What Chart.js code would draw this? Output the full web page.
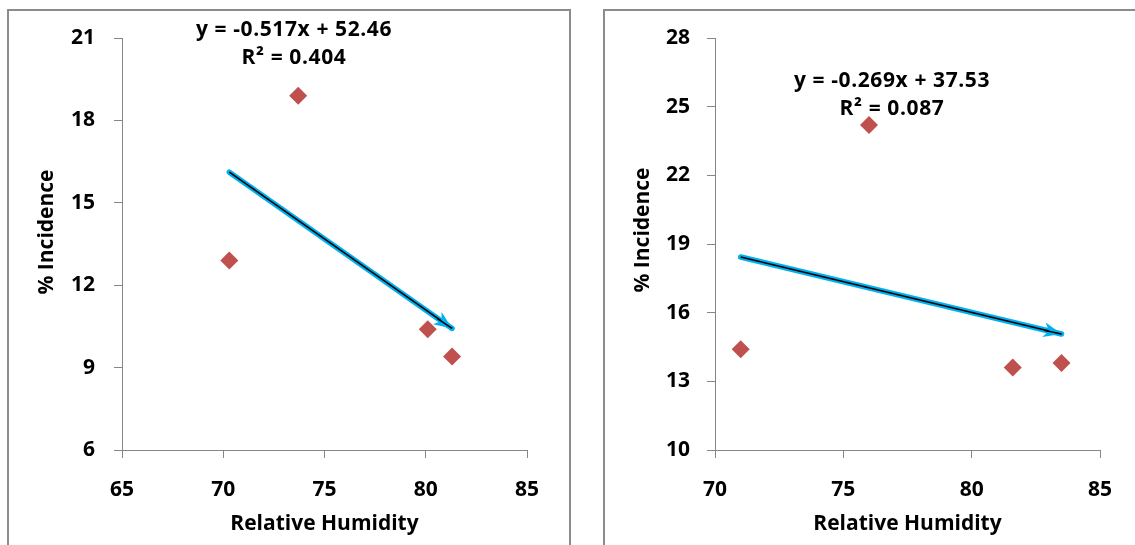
<!DOCTYPE html>
<html>
<head>
<meta charset="utf-8">
<script src="https://cdn.jsdelivr.net/npm/chart.js@4.4.1/dist/chart.umd.min.js"></script>
<style>
  body { margin: 0; background: #fff; width: 1135px; height: 545px; overflow: hidden; position: relative; }
  .box { position: absolute; border: 2px solid #8c8c8c; border-bottom: none; }
  canvas { position: absolute; top: 0; }
</style>
</head>
<body>
<div class="box" style="left:7px; top:9px; width:560px; height:540px;"></div>
<div class="box" style="left:603px; top:9px; width:540px; height:540px;"></div>
<canvas id="leftChart" width="580" height="545" style="left:0px"></canvas>
<canvas id="rightChart" width="545" height="545" style="left:590px"></canvas>
<script>
// left panel
const leftHumidity = [70.3, 73.7, 80.1, 81.3];
const leftIncidence = [12.9, 18.9, 10.4, 9.4];
const leftTrend = { slope: -0.517, intercept: 52.46, r2: '0.404' };
const leftXTicks = [65, 70, 75, 80, 85];
const leftYTicks = [6, 9, 12, 15, 18, 21];

// right panel
const rightHumidity = [71.0, 76.0, 81.6, 83.5];
const rightIncidence = [14.4, 24.2, 13.6, 13.8];
const rightTrend = { slope: -0.269, intercept: 37.53, r2: '0.087' };
const rightXTicks = [70, 75, 80, 85];
const rightYTicks = [10, 13, 16, 19, 22, 25, 28];

const FONT = '"Open Sans", Lato, sans-serif';
const FONT_SIZE = 21;
const AXIS_GREY = '#868686';
Chart.defaults.font.family = FONT;
Chart.defaults.color = '#000';

// arrow head on the trend line + rotated y title + equation text
const extras = {
  id: 'extras',
  afterDatasetsDraw(chart, args, opts) {
    const { ctx } = chart;
    const meta = chart.getDatasetMeta(1);
    const p0 = meta.data[0], p1 = meta.data[1];
    const ang = Math.atan2(p1.y - p0.y, p1.x - p0.x);
    const len = 18, half = 7.5, notch = 13;
    ctx.save();
    ctx.translate(p1.x, p1.y);
    ctx.rotate(ang);
    ctx.beginPath();
    ctx.moveTo(0, 0);
    ctx.lineTo(-len, -half);
    ctx.lineTo(-notch, 0);
    ctx.lineTo(-len, half);
    ctx.closePath();
    ctx.fillStyle = '#00b0f0';
    ctx.fill();
    ctx.beginPath();
    ctx.moveTo(-len, 0.5);
    ctx.lineTo(0, 0);
    ctx.strokeStyle = '#000';
    ctx.lineWidth = 1.5;
    ctx.stroke();
    ctx.restore();
  },
  afterDraw(chart, args, opts) {
    const { ctx } = chart;
    ctx.save();
    ctx.fillStyle = '#000';
    ctx.textAlign = 'center';
    ctx.textBaseline = 'middle';
    ctx.font = 'bold ' + FONT_SIZE + 'px ' + FONT;
    ctx.translate(opts.titleX, opts.titleY);
    ctx.rotate(-Math.PI / 2);
    ctx.fillText('% Incidence', 0, 0);
    ctx.restore();

    ctx.save();
    ctx.fillStyle = '#000';
    ctx.textAlign = 'center';
    ctx.textBaseline = 'middle';
    ctx.font = 'bold ' + FONT_SIZE + 'px ' + FONT;
    ctx.letterSpacing = '0.6px';
    const t = opts.trend;
    const sign = t.intercept < 0 ? '- ' : '+ ';
    ctx.fillText('y = ' + t.slope + 'x ' + sign + Math.abs(t.intercept), opts.eqX, opts.eqY);
    ctx.fillText('R² = ' + t.r2, opts.eqX, opts.eqY + 28);
    ctx.restore();
  }
};

function makeChart(id, xs, ys, trend, xTicks, yTicks, box) {
  const points = xs.map((x, i) => ({ x: x, y: ys[i] }));
  const x0 = Math.min(...xs), x1 = Math.max(...xs);
  const line = [
    { x: x0, y: trend.slope * x0 + trend.intercept },
    { x: x1, y: trend.slope * x1 + trend.intercept },
  ];
  const canvas = document.getElementById(id);
  const tickFont = { size: FONT_SIZE, weight: 'bold' };
  return new Chart(canvas, {
    type: 'scatter',
    plugins: [extras],
    data: {
      datasets: [
        {
          label: 'Incidence',
          data: points,
          pointStyle: 'rectRot',
          pointRadius: 9,
          pointHoverRadius: 9,
          backgroundColor: '#c0504d',
          borderColor: '#c0504d',
          borderWidth: 0,
          order: 3,
        },
        {
          type: 'line',
          label: 'trend',
          data: line,
          borderColor: '#00b0f0',
          borderWidth: 5.5,
          pointRadius: 0,
          borderCapStyle: 'round',
          order: 2,
        },
        {
          type: 'line',
          label: 'trend core',
          data: line,
          borderColor: '#000',
          borderWidth: 1.6,
          pointRadius: 0,
          order: 1,
        },
      ],
    },
    options: {
      responsive: false,
      animation: false,
      devicePixelRatio: 1,
      layout: {
        padding: { left: 0, top: box.top, right: canvas.width - box.right, bottom: 0 },
      },
      plugins: {
        legend: { display: false },
        tooltip: { enabled: false },
        extras: box.extras,
      },
      scales: {
        x: {
          type: 'linear',
          min: xTicks[0],
          max: xTicks[xTicks.length - 1],
          afterFit: (scale) => { scale.height = canvas.height - box.bottom; },
          ticks: { stepSize: xTicks[1] - xTicks[0], padding: 19, color: '#000', font: tickFont },
          grid: { drawOnChartArea: false, color: AXIS_GREY, tickLength: 8 },
          border: { color: AXIS_GREY, width: 1 },
          title: {
            display: true,
            text: 'Relative Humidity',
            color: '#000',
            font: tickFont,
            padding: { top: 0, bottom: 8 },
          },
        },
        y: {
          min: yTicks[0],
          max: yTicks[yTicks.length - 1],
          afterFit: (scale) => { scale.width = box.left; },
          ticks: { stepSize: yTicks[1] - yTicks[0], padding: box.yPad, color: '#000', font: tickFont },
          grid: { drawOnChartArea: false, color: AXIS_GREY, tickLength: 8 },
          border: { color: AXIS_GREY, width: 1 },
        },
      },
    },
  });
}

makeChart('leftChart', leftHumidity, leftIncidence, leftTrend, leftXTicks, leftYTicks, {
  left: 122, right: 527, top: 38, bottom: 450, yPad: 19,
  extras: { titleX: 47, titleY: 232, eqX: 294, eqY: 30, trend: leftTrend },
});
makeChart('rightChart', rightHumidity, rightIncidence, rightTrend, rightXTicks, rightYTicks, {
  left: 125, right: 510, top: 38, bottom: 450, yPad: 17,
  extras: { titleX: 53, titleY: 230, eqX: 302, eqY: 81, trend: rightTrend },
});
</script>
</body>
</html>
